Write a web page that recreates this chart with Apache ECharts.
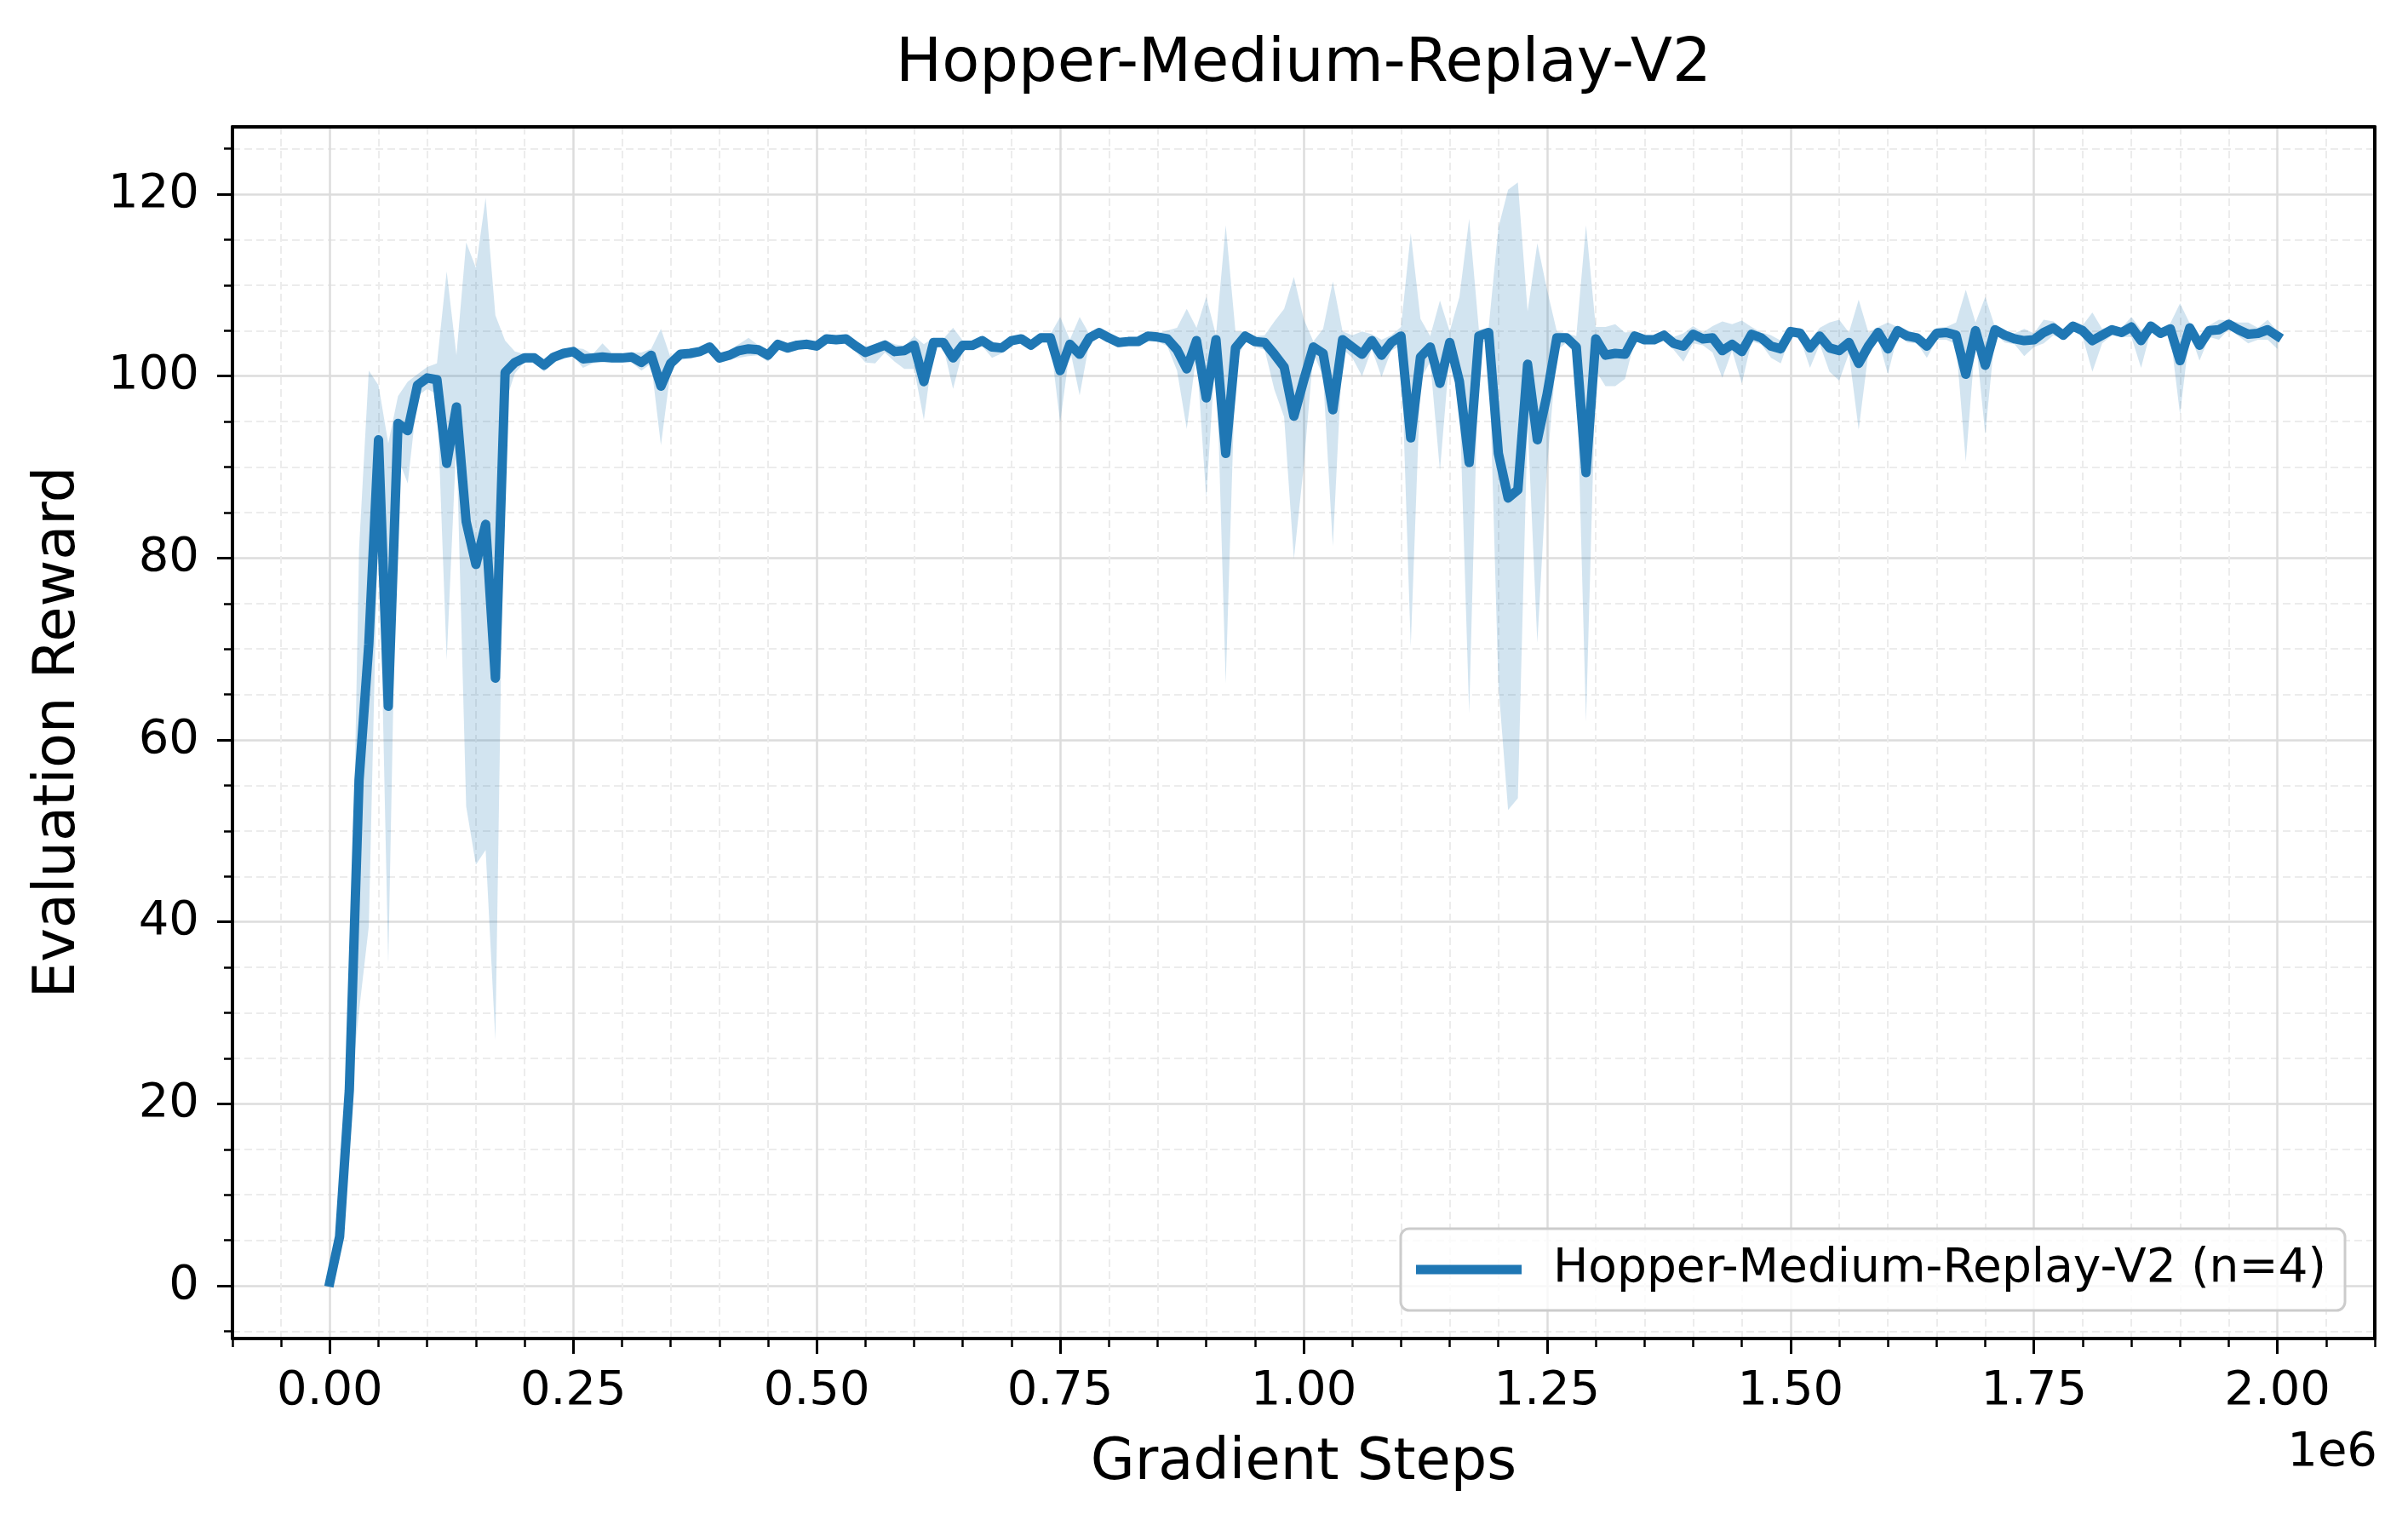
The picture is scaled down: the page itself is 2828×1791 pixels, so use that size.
<!DOCTYPE html>
<html>
<head>
<meta charset="utf-8">
<title>Hopper-Medium-Replay-V2</title>
<script src="https://cdn.jsdelivr.net/npm/echarts@6/dist/echarts.min.js"></script>
<style>
  html, body { margin: 0; padding: 0; background: #ffffff; }
  #chart { width: 2828px; height: 1791px; }
</style>
</head>
<body>
<div id="chart"></div>
<script>
// evaluation every 10k gradient steps, 0 .. 2e6
const stepSize = 10000;

const meanReward = [
  0.4, 5.4, 21.5, 55.6, 70.5, 93.0, 63.7, 94.8, 94.0, 99.0,
  99.8, 99.6, 90.4, 96.6, 84.0, 79.3, 83.7, 66.8, 100.4, 101.5,
  102.0, 102.0, 101.2, 102.1, 102.5, 102.7, 101.9, 102.0, 102.1, 102.0,
  102.0, 102.1, 101.5, 102.3, 98.9, 101.4, 102.4, 102.5, 102.7, 103.2,
  102.0, 102.3, 102.8, 103.0, 102.9, 102.3, 103.5, 103.1, 103.4, 103.5,
  103.3, 104.1, 104.0, 104.1, 103.3, 102.6, 103.0, 103.4, 102.7, 102.8,
  103.4, 99.4, 103.7, 103.7, 102.0, 103.4, 103.4, 103.9, 103.2, 103.1,
  103.9, 104.1, 103.4, 104.2, 104.2, 100.6, 103.5, 102.4, 104.2, 104.8,
  104.2, 103.7, 103.8, 103.8, 104.4, 104.3, 104.1, 102.9, 100.8, 103.9,
  97.6, 104.0, 91.5, 103.1, 104.4, 103.8, 103.7, 102.4, 101.0, 95.6,
  99.5, 103.2, 102.5, 96.3, 104.0, 103.2, 102.4, 103.9, 102.3, 103.7,
  104.4, 93.2, 102.1, 103.2, 99.2, 103.7, 99.4, 90.5, 104.4, 104.8,
  91.5, 86.6, 87.5, 101.3, 93.0, 98.0, 104.2, 104.2, 103.2, 89.4,
  104.1, 102.3, 102.5, 102.4, 104.4, 104.0, 104.0, 104.5, 103.6, 103.3,
  104.6, 104.1, 104.2, 102.8, 103.5, 102.7, 104.6, 104.2, 103.3, 103.0,
  104.9, 104.7, 103.1, 104.4, 103.1, 102.8, 103.7, 101.4, 103.3, 104.8,
  103.0, 105.0, 104.4, 104.2, 103.3, 104.7, 104.8, 104.5, 100.2, 105.0,
  101.2, 105.1, 104.5, 104.1, 103.9, 104.0, 104.8, 105.3, 104.5, 105.5,
  105.0, 103.9, 104.5, 105.1, 104.8, 105.4, 103.9, 105.5, 104.7, 105.2,
  101.7, 105.3, 103.4, 105.0, 105.1, 105.7, 105.1, 104.6, 104.7, 105.1,
  104.4
];

const upperReward = [
  0.6, 6.0, 23.0, 81.0, 100.6, 99.0, 92.6, 97.8, 99.4, 100.2,
  101.0, 101.4, 111.5, 102.3, 114.7, 111.9, 119.6, 106.7, 103.9, 102.7,
  102.4, 102.3, 101.8, 102.6, 103.0, 103.1, 103.0, 102.4, 103.6, 102.5,
  102.4, 102.6, 102.6, 103.0, 105.2, 102.0, 102.9, 103.0, 103.1, 103.6,
  102.5, 102.8, 103.5, 104.2, 103.4, 102.8, 104.0, 103.6, 103.8, 103.9,
  103.7, 104.5, 104.4, 104.5, 103.8, 103.1, 103.5, 104.0, 103.5, 103.3,
  104.4, 103.5, 104.2, 104.1, 105.3, 103.9, 103.9, 104.4, 103.8, 103.6,
  104.3, 104.5, 103.9, 104.7, 104.6, 106.5, 104.0, 106.5, 104.6, 105.2,
  104.6, 104.1, 104.2, 104.2, 104.8, 104.7, 105.0, 105.3, 107.4, 105.3,
  108.7, 104.5, 116.6, 104.9, 104.9, 104.4, 104.5, 106.0, 107.4, 110.9,
  106.3, 103.8, 105.2, 110.4, 104.9, 104.5, 104.9, 104.6, 104.0, 104.5,
  105.4, 115.7, 106.3, 104.4, 108.3, 104.9, 108.7, 117.3, 105.1, 105.3,
  116.3, 120.5, 121.3, 107.1, 114.6, 109.5, 104.9, 104.7, 104.4, 116.6,
  105.4, 105.4, 105.7, 104.8, 104.9, 104.5, 104.5, 105.0, 104.3, 104.7,
  105.5, 104.8, 105.5, 106.0, 105.7, 106.1, 105.4, 104.8, 104.5, 103.9,
  105.2, 105.3, 103.9, 105.3, 105.9, 106.2, 104.8, 108.4, 104.8, 105.4,
  105.9, 105.4, 105.0, 104.7, 103.9, 105.3, 105.4, 105.9, 109.5, 105.9,
  108.7, 105.4, 105.0, 104.7, 105.2, 104.7, 106.2, 106.0, 105.0, 106.0,
  105.6, 107.0, 105.2, 105.6, 105.3, 106.5, 105.1, 105.8, 105.2, 105.8,
  108.0, 105.8, 104.4, 105.6, 106.2, 106.1, 105.9, 105.9, 105.3, 106.2,
  104.9
];

const lowerReward = [
  0.2, 4.8, 20.0, 30.2, 39.5, 86.0, 35.4, 91.0, 88.2, 97.8,
  98.6, 98.0, 68.8, 93.0, 52.7, 46.3, 47.9, 27.0, 97.0, 100.3,
  101.6, 101.6, 100.5, 101.5, 101.9, 102.2, 100.9, 101.4, 101.5, 101.5,
  101.5, 101.5, 100.6, 101.4, 92.4, 100.6, 101.8, 101.9, 102.2, 102.7,
  101.4, 101.8, 102.0, 102.2, 102.3, 101.6, 102.9, 102.5, 102.9, 103.0,
  102.8, 103.6, 103.5, 103.6, 102.7, 101.5, 101.4, 102.6, 101.6, 100.8,
  100.8, 95.2, 103.1, 103.2, 98.6, 102.8, 102.8, 103.3, 102.0, 102.5,
  103.4, 103.6, 102.8, 103.7, 103.7, 94.9, 103.0, 97.9, 103.7, 104.3,
  103.7, 103.2, 103.3, 103.3, 104.0, 103.8, 103.3, 100.6, 94.2, 102.5,
  86.6, 103.5, 66.2, 101.3, 103.9, 103.2, 102.9, 98.5, 95.5, 79.9,
  90.0, 102.5, 100.0, 81.3, 103.0, 102.0, 100.0, 103.0, 99.9, 102.8,
  103.4, 70.3, 99.6, 101.6, 89.6, 102.5, 97.8, 62.9, 103.5, 104.0,
  66.1, 52.3, 53.6, 95.0, 70.7, 90.0, 102.8, 103.7, 102.0, 62.0,
  100.6, 98.9, 98.9, 99.7, 103.9, 103.5, 103.5, 104.0, 102.9, 101.6,
  103.6, 103.4, 102.6, 99.8, 102.8, 99.2, 103.8, 103.5, 102.0, 101.4,
  104.5, 104.1, 100.9, 103.5, 100.5, 99.5, 102.5, 94.1, 102.6, 104.1,
  100.2, 104.5, 103.7, 103.6, 102.0, 104.0, 104.0, 103.5, 90.6, 104.2,
  93.6, 104.6, 103.7, 103.5, 102.2, 103.2, 103.6, 104.5, 104.0, 105.0,
  104.3, 100.5, 103.6, 104.5, 104.3, 104.3, 100.9, 105.0, 104.2, 104.6,
  95.8, 104.8, 101.7, 104.3, 104.0, 105.2, 104.4, 103.6, 104.0, 104.0,
  103.0
];

const xMajorTicks = [0, 250000, 500000, 750000, 1000000, 1250000, 1500000, 1750000, 2000000];
const yMajorTicks = [0, 20, 40, 60, 80, 100, 120];

const titleText = 'Hopper-Medium-Replay-V2';
const seriesName = 'Hopper-Medium-Replay-V2 (n=4)';

const steps = meanReward.map((_, i) => i * stepSize);

// minor ticks every 0.05e6 / every 5, skipping major positions
const xMinorTicks = [];
for (let v = -100000; v <= 2100000; v += 50000) {
  if (v % 250000 !== 0) xMinorTicks.push(v);
}
const yMinorTicks = [];
for (let v = -5; v <= 125; v += 5) {
  if (v % 20 !== 0) yMinorTicks.push(v);
}

const FONT = 'DejaVu Sans';
const LINE_COLOR = '#1f77b4';
const BAND_COLOR = 'rgba(31,119,180,0.2)';
const X_MIN = -100000, X_MAX = 2100000;
const Y_MIN = -5.8, Y_MAX = 127.4;

const chart = echarts.init(document.getElementById('chart'), null, { renderer: 'canvas' });

const hidden = { show: false };

// fill_between: one polygon, upper edge forward then lower edge back
function renderBand(params, api) {
  if (params.dataIndex !== 0) return null;
  const pts = [];
  for (let i = 0; i < steps.length; i++) {
    pts.push(api.coord([steps[i], upperReward[i]]));
  }
  for (let i = steps.length - 1; i >= 0; i--) {
    pts.push(api.coord([steps[i], lowerReward[i]]));
  }
  return {
    type: 'polygon',
    shape: { points: pts },
    style: { fill: BAND_COLOR, stroke: null }
  };
}

const option = {
  backgroundColor: '#ffffff',
  animation: false,
  title: {
    text: titleText,
    left: 1531,
    top: 40,
    textAlign: 'center',
    padding: 0,
    textStyle: { fontFamily: FONT, fontSize: 72, fontWeight: 'normal', color: '#000', lineHeight: 72 }
  },
  grid: { left: 273, right: 39, top: 149, bottom: 219, containLabel: false },
  legend: {
    left: 1645,
    top: 1443,
    data: [{ name: seriesName, icon: 'rect' }],
    itemWidth: 124,
    itemHeight: 11,
    padding: [18, 22, 18, 18],
    borderColor: '#cccccc',
    borderWidth: 3,
    borderRadius: 10,
    backgroundColor: 'rgba(255,255,255,0.8)',
    selectedMode: false,
    textStyle: { fontFamily: FONT, fontSize: 55, color: '#000', lineHeight: 60, padding: [0, 0, 0, 32] }
  },
  xAxis: [
    {
      type: 'value', position: 'bottom', min: X_MIN, max: X_MAX,
      axisLine: { show: true, onZero: false, lineStyle: { color: '#000', width: 4 } },
      axisTick: { show: true, inside: false, length: 18, customValues: xMajorTicks, lineStyle: { color: '#000', width: 3 } },
      axisLabel: {
        show: true, customValues: xMajorTicks, margin: 34,
        fontFamily: FONT, fontSize: 56, color: '#000', lineHeight: 56,
        formatter: (v) => (v / 1e6).toFixed(2)
      },
      splitLine: { show: true, lineStyle: { color: '#dcdcdc', width: 2.5 } }
    },
    {
      type: 'value', position: 'bottom', min: X_MIN, max: X_MAX,
      axisLine: { show: false, onZero: false },
      axisTick: { show: true, inside: false, length: 10, customValues: xMinorTicks, lineStyle: { color: '#000', width: 2.5 } },
      axisLabel: hidden,
      splitLine: { show: true, lineStyle: { color: '#ececec', width: 2, type: [9, 5] } }
    },
    {
      type: 'value', position: 'top', min: X_MIN, max: X_MAX,
      axisLine: { show: true, onZero: false, lineStyle: { color: '#000', width: 4 } },
      axisTick: hidden, axisLabel: hidden, splitLine: hidden
    }
  ],
  yAxis: [
    {
      type: 'value', position: 'left', min: Y_MIN, max: Y_MAX,
      axisLine: { show: true, onZero: false, lineStyle: { color: '#000', width: 4 } },
      axisTick: { show: true, inside: false, length: 18, customValues: yMajorTicks, lineStyle: { color: '#000', width: 3 } },
      axisLabel: {
        show: true, customValues: yMajorTicks, margin: 39,
        fontFamily: FONT, fontSize: 56, color: '#000'
      },
      splitLine: { show: true, lineStyle: { color: '#dcdcdc', width: 2.5 } }
    },
    {
      type: 'value', position: 'left', min: Y_MIN, max: Y_MAX,
      axisLine: { show: false, onZero: false },
      axisTick: { show: true, inside: false, length: 10, customValues: yMinorTicks, lineStyle: { color: '#000', width: 2.5 } },
      axisLabel: hidden,
      splitLine: { show: true, lineStyle: { color: '#ececec', width: 2, type: [9, 5] } }
    },
    {
      type: 'value', position: 'right', min: Y_MIN, max: Y_MAX,
      axisLine: { show: true, onZero: false, lineStyle: { color: '#000', width: 4 } },
      axisTick: hidden, axisLabel: hidden, splitLine: hidden
    }
  ],
  graphic: [
    {
      type: 'text', x: 70, y: 860, rotation: Math.PI / 2,
      style: { text: 'Evaluation Reward', fontFamily: FONT, fontSize: 67, fill: '#000', align: 'center', verticalAlign: 'middle' }
    },
    {
      type: 'text', x: 1531, y: 1720,
      style: { text: 'Gradient Steps', fontFamily: FONT, fontSize: 67, fill: '#000', align: 'center', verticalAlign: 'middle' }
    },
    {
      type: 'text', x: 2792, y: 1706,
      style: { text: '1e6', fontFamily: FONT, fontSize: 56, fill: '#000', align: 'right', verticalAlign: 'middle' }
    }
  ],
  series: [
    {
      name: 'band', type: 'custom', silent: true,
      xAxisIndex: 0, yAxisIndex: 0,
      renderItem: renderBand,
      encode: { x: 0, y: [1, 2] },
      data: steps.map((x, i) => [x, lowerReward[i], upperReward[i]]),
      z: 1
    },
    {
      name: seriesName, type: 'line',
      xAxisIndex: 0, yAxisIndex: 0,
      showSymbol: false, symbol: 'none',
      color: LINE_COLOR,
      lineStyle: { color: LINE_COLOR, width: 11, join: 'round', cap: 'square' },
      data: steps.map((x, i) => [x, meanReward[i]]),
      z: 3
    }
  ]
};

chart.setOption(option);
window.addEventListener('resize', () => chart.resize());
</script>
</body>
</html>
